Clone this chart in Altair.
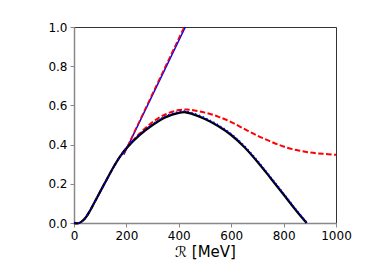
import altair as alt
import pandas as pd

# black solid curve
black_x = [0, 20, 40, 60, 80, 100, 125, 150, 175, 200, 250, 300, 350, 400, 425, 450, 500, 550, 600, 650, 700, 750, 800, 850, 888]
black_y = [0.0, 0.0, 0.02, 0.06, 0.11, 0.16, 0.222, 0.283, 0.337, 0.381, 0.448, 0.5, 0.54, 0.562, 0.565, 0.557, 0.531, 0.495, 0.449, 0.388, 0.313, 0.23, 0.145, 0.06, 0.0]

# blue dotted curve
bdot_x = [0, 20, 40, 60, 80, 100, 125, 150, 175, 200, 250, 300, 350, 400, 425, 450, 500, 550, 600, 650, 700, 750, 800, 850, 891]
bdot_y = [0.0, 0.0, 0.02, 0.06, 0.11, 0.16, 0.222, 0.283, 0.338, 0.383, 0.452, 0.505, 0.546, 0.568, 0.571, 0.563, 0.537, 0.501, 0.455, 0.394, 0.319, 0.236, 0.151, 0.065, 0.0]

# red dashed curve
rcurve_x = [0, 20, 40, 60, 80, 100, 125, 150, 175, 200, 250, 300, 350, 400, 430, 450, 500, 550, 600, 650, 700, 750, 800, 850, 900, 950, 1000]
rcurve_y = [0.0, 0.0, 0.02, 0.06, 0.11, 0.16, 0.222, 0.283, 0.338, 0.382, 0.455, 0.515, 0.555, 0.576, 0.579, 0.577, 0.563, 0.543, 0.515, 0.48, 0.446, 0.416, 0.39, 0.372, 0.36, 0.353, 0.348]

# straight lines
bline_x = [190, 425]
bline_y = [0.349, 1.0]
rline_x = [190, 420]
rline_y = [0.352, 1.0]

x_ticks = [0, 200, 400, 600, 800, 1000]
y_ticks = [0.0, 0.2, 0.4, 0.6, 0.8, 1.0]

rows = []
for name, xs, ys in [("black", black_x, black_y), ("bdot", bdot_x, bdot_y),
                     ("rcurve", rcurve_x, rcurve_y), ("bline", bline_x, bline_y),
                     ("rline", rline_x, rline_y)]:
    for i, (a, b) in enumerate(zip(xs, ys)):
        rows.append({"s": name, "x": a, "y": b, "o": i})
df = pd.DataFrame(rows)

xs = alt.Scale(domain=[0, 1000], nice=False, zero=False)
ys = alt.Scale(domain=[0, 1.0], nice=False, zero=False)

xenc = alt.X("x:Q", scale=xs, title="ℛ [MeV]",
             axis=alt.Axis(values=x_ticks, format="d", grid=False, labelFlush=False))
yenc = alt.Y("y:Q", scale=ys, title=None,
             axis=alt.Axis(values=y_ticks, format=".1f", grid=False, labelFlush=False))

base = alt.Chart(df)

def layer(name, color, width, dash=None, interp="catmull-rom"):
    kw = dict(color=color, strokeWidth=width, interpolate=interp)
    if dash:
        kw["strokeDash"] = dash
    return base.transform_filter(alt.datum.s == name).mark_line(**kw).encode(
        x=xenc, y=yenc, order="o:Q")

chart = alt.layer(
    layer("bline", "#0000ff", 1.5, interp="linear"),
    layer("rline", "#ff0000", 1.5, [5.5, 2.4], interp="linear"),
    layer("rcurve", "#ff0000", 2, [5.5, 2.4]),
    layer("black", "#000000", 2.3),
    layer("bdot", "#0000ff", 1.5, [1.5, 2.5]),
).properties(
    width=262, height=196,
    autosize=alt.AutoSizeParams(type="none"),
    padding={"left": 66, "top": 19, "right": 30, "bottom": 40},
).configure_view(
    stroke="#333333", strokeWidth=1
).configure_axis(
    labelFont="DejaVu Sans", titleFont="DejaVu Sans",
    labelFontSize=12, titleFontSize=15, titleFontWeight="normal",
    labelColor="black", titleColor="black",
    domainColor="#888888", tickColor="#888888", tickSize=4, domainWidth=1.5,
    labelPadding=3, titlePadding=3,
)

chart.save("out.html", embed_options={"renderer": "svg", "actions": False})
